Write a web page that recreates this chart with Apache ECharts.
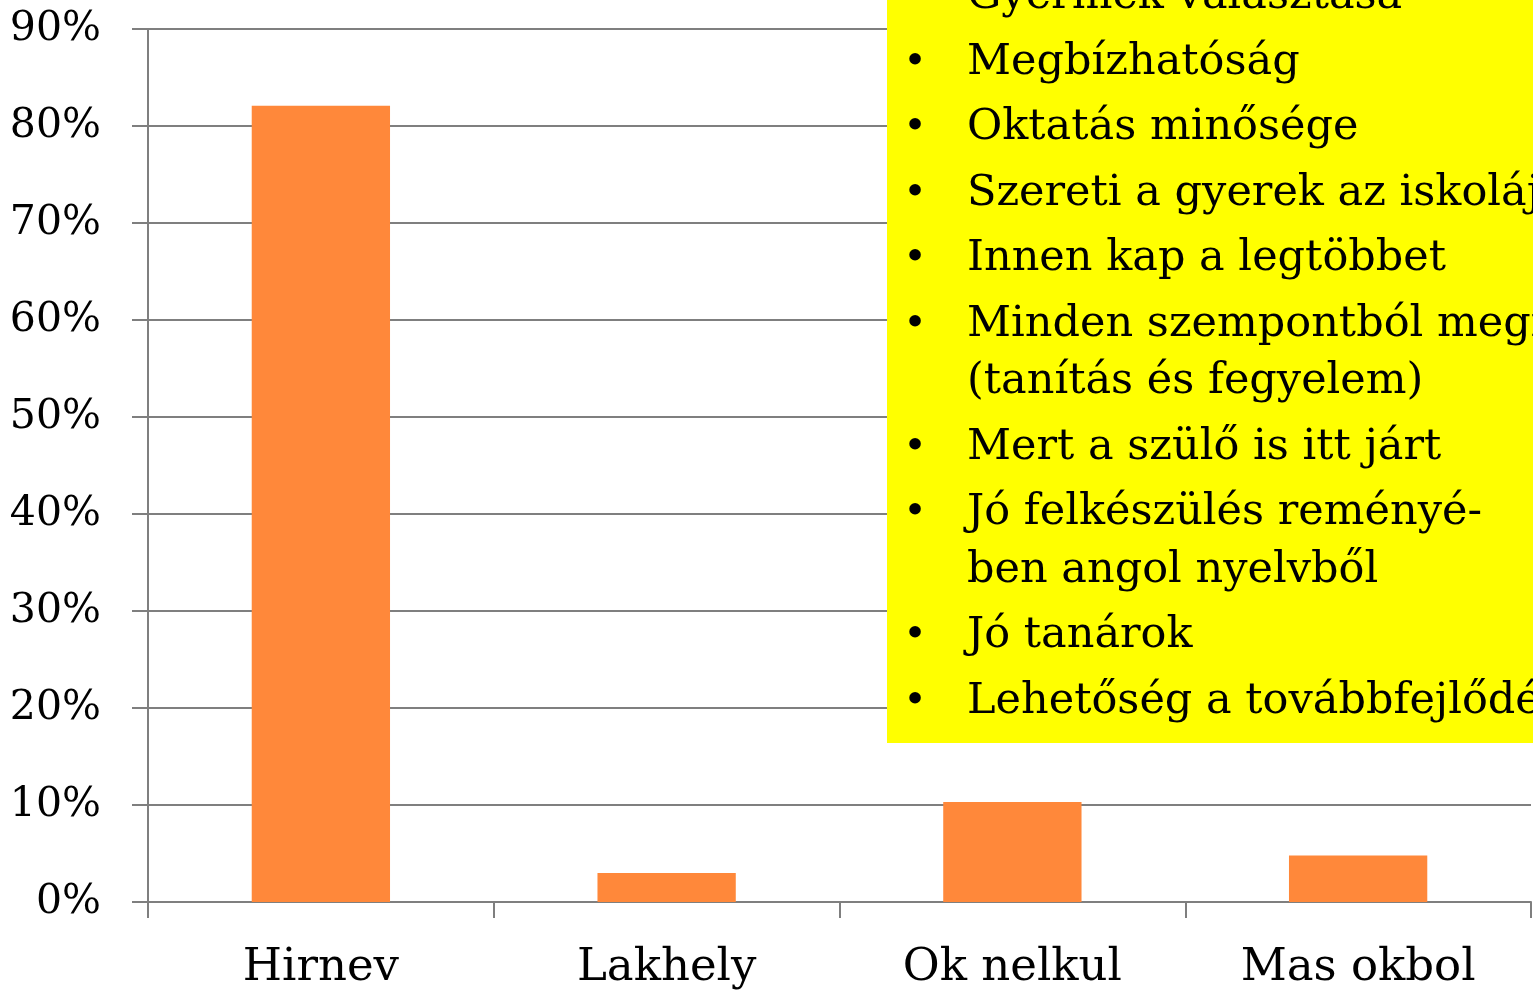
<!DOCTYPE html>
<html>
<head>
<meta charset="utf-8">
<script src="https://cdn.jsdelivr.net/npm/echarts@6/dist/echarts.min.js"></script>
<style>
  html, body { margin: 0; padding: 0; background: #fff; }
  #chart { width: 1533px; height: 991px; }
</style>
</head>
<body>
<div id="chart"></div>
<script>
// okok megoszlasa
const categories = ['Hirnev', 'Lakhely', 'Ok nelkul', 'Mas okbol']
const values = [82.1, 3.0, 10.3, 4.8]
// sarga doboz szovege (egy elem = egy pont, tobb sor ha tordelt)
const reasons = [
  ['Gyermek választása'],
  ['Megbízhatóság'],
  ['Oktatás minősége'],
  ['Szereti a gyerek az iskoláját'],
  ['Innen kap a legtöbbet'],
  ['Minden szempontból megfelel', '(tanítás és fegyelem)'],
  ['Mert a szülő is itt járt'],
  ['Jó felkészülés reményé-', 'ben angol nyelvből'],
  ['Jó tanárok'],
  ['Lehetőség a továbbfejlődésre']
]

const serif = '"DejaVu Serif", "Liberation Serif", serif'
const gray = '#7f7f7f'

const myChart = echarts.init(document.getElementById('chart'))

const boxText = []
let y = -3
reasons.forEach((lines, i) => {
  if (i > 0) y += 65.5
  boxText.push({
    type: 'text',
    z: 101,
    style: { text: '•', x: 915, y: y, font: '40px ' + serif, fill: '#000', align: 'center', verticalAlign: 'middle' }
  })
  lines.forEach((line, j) => {
    if (j > 0) y += 57.5
    boxText.push({
      type: 'text',
      z: 101,
      style: { text: line, x: 967, y: y, font: '43px ' + serif, fill: '#000', verticalAlign: 'middle' }
    })
  })
})

myChart.setOption({
  animation: false,
  grid: {
    left: 148,
    right: 2,
    top: 29,
    bottom: 87
  },
  xAxis: {
    type: 'category',
    data: categories,
    axisLine: { lineStyle: { color: gray, width: 2 } },
    axisTick: { show: true, length: 16, lineStyle: { color: gray, width: 2 } },
    axisLabel: {
      margin: 44,
      color: '#000',
      fontSize: 45,
      fontFamily: serif
    }
  },
  yAxis: {
    type: 'value',
    min: 0,
    max: 90,
    interval: 10,
    axisLine: { show: true, lineStyle: { color: gray, width: 2 } },
    axisTick: { show: true, length: 16, lineStyle: { color: gray, width: 2 } },
    splitLine: { lineStyle: { color: gray, width: 2 } },
    axisLabel: {
      formatter: '{value}%',
      margin: 47,
      color: '#000',
      fontSize: 41,
      fontFamily: serif,
      padding: [8, 0, 0, 0]
    }
  },
  series: [
    {
      type: 'bar',
      barWidth: '40%',
      itemStyle: { color: '#FF883A' },
      data: values
    }
  ],
  graphic: [
    {
      type: 'rect',
      z: 100,
      shape: { x: 887, y: 0, width: 646, height: 743 },
      style: { fill: '#FFFF00' }
    }
  ].concat(boxText)
})
</script>
</body>
</html>
